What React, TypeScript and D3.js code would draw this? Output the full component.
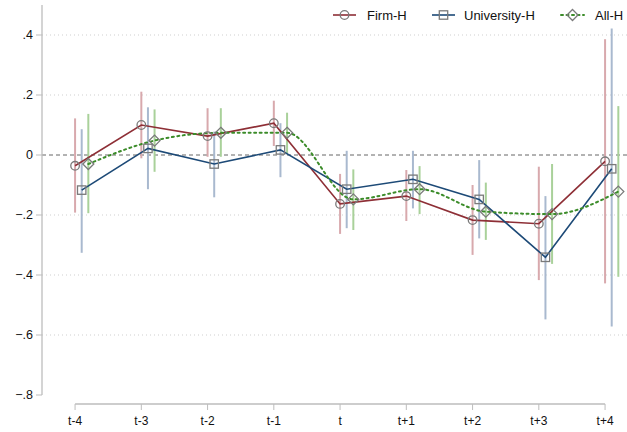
import React from "react";
import * as d3 from "d3";

const periods = ["t-4", "t-3", "t-2", "t-1", "t", "t+1", "t+2", "t+3", "t+4"];

const firmEst = [-0.036, 0.1, 0.063, 0.106, -0.163, -0.137, -0.217, -0.229, -0.021];
const firmLo = [-0.192, -0.011, -0.006, 0.03, -0.263, -0.22, -0.333, -0.417, -0.428];
const firmHi = [0.122, 0.211, 0.156, 0.181, -0.063, -0.05, -0.1, -0.039, 0.386];

const uniEst = [-0.117, 0.022, -0.03, 0.017, -0.114, -0.081, -0.148, -0.341, -0.046];
const uniLo = [-0.326, -0.114, -0.141, -0.074, -0.244, -0.178, -0.278, -0.548, -0.572];
const uniHi = [0.086, 0.159, 0.078, 0.106, 0.014, 0.014, -0.017, -0.137, 0.422];

const allEst = [-0.03, 0.048, 0.074, 0.074, -0.148, -0.114, -0.189, -0.197, -0.122];
const allLo = [-0.194, -0.056, -0.006, 0.006, -0.25, -0.197, -0.283, -0.363, -0.406];
const allHi = [0.137, 0.152, 0.156, 0.141, -0.048, -0.037, -0.092, -0.03, 0.163];

const yTicks = [0.4, 0.2, 0, -0.2, -0.4, -0.6, -0.8];
const gridTicks = [0.4, 0.2, -0.2, -0.4, -0.6];

const W = 627;
const H = 432;
const font = "'Liberation Sans', Arial, Helvetica, sans-serif";

const series = [
  { name: "Firm-H", est: firmEst, lo: firmLo, hi: firmHi, off: -0.1, line: "#8e2f36", ci: "#d8a9ad", marker: "circle", dash: null, curve: d3.curveLinear },
  { name: "University-H", est: uniEst, lo: uniLo, hi: uniHi, off: 0, line: "#1d4a77", ci: "#a9b9cf", marker: "square", dash: null, curve: d3.curveLinear },
  { name: "All-H", est: allEst, lo: allLo, hi: allHi, off: 0.1, line: "#3c8c2a", ci: "#a9d19a", marker: "diamond", dash: "2,3.5", curve: d3.curveMonotoneX },
];

const Marker = ({ type, x, y }: { type: string; x: number; y: number }) => {
  const stroke = "#7a7a7a";
  if (type === "circle") return <circle cx={x} cy={y} r={4.3} fill="none" stroke={stroke} strokeWidth={1.3} />;
  if (type === "square") return <rect x={x - 4.2} y={y - 4.2} width={8.4} height={8.4} fill="none" stroke={stroke} strokeWidth={1.3} />;
  return <path d={`M${x},${y - 5.5}L${x + 5.5},${y}L${x},${y + 5.5}L${x - 5.5},${y}Z`} fill="none" stroke={stroke} strokeWidth={1.3} />;
};

export default function App() {
  const y = d3.scaleLinear().domain([-0.8, 0.4]).range([395, 35]);
  const xPts = d3.scaleLinear().domain([0, periods.length - 1]).range([81.7, 611.7]);
  const xTick = (i: number) => xPts(i - 0.1);
  const axisLeft = 42;
  const axisBottom = 404;

  const legendItems = [
    { s: series[0], x0: 333, tx: 367 },
    { s: series[1], x0: 432, tx: 464 },
    { s: series[2], x0: 561, tx: 595 },
  ];

  return (
    <svg width={W} height={H} style={{ position: "absolute", left: 0, top: 0, background: "#fff" }} fontFamily={font}>
      {/* gridlines */}
      {gridTicks.map((t) => (
        <line key={t} x1={axisLeft} x2={W} y1={y(t)} y2={y(t)} stroke="#cfcfcf" strokeWidth={1} strokeDasharray="1,3" />
      ))}
      <line x1={axisLeft} x2={W} y1={y(0)} y2={y(0)} stroke="#666" strokeWidth={1} strokeDasharray="4,3" />

      {/* y axis */}
      <line x1={axisLeft} x2={axisLeft} y1={5} y2={y(-0.8)} stroke="#bdbdbd" strokeWidth={1.3} />
      {yTicks.map((t) => (
        <g key={t}>
          <line x1={axisLeft - 6} x2={axisLeft} y1={y(t)} y2={y(t)} stroke="#bdbdbd" strokeWidth={1} />
          <text x={axisLeft - 9} y={y(t)} dy="0.35em" textAnchor="end" fontSize={12.5} fill="#111">
            {t === 0 ? "0" : d3.format(".1f")(t).replace("0.", ".")}
          </text>
        </g>
      ))}

      {/* x axis */}
      <line x1={xTick(0)} x2={xTick(periods.length - 1)} y1={axisBottom} y2={axisBottom} stroke="#bdbdbd" strokeWidth={1.3} />
      {periods.map((p, i) => (
        <g key={p}>
          <line x1={xTick(i)} x2={xTick(i)} y1={axisBottom} y2={axisBottom + 6} stroke="#bdbdbd" strokeWidth={1} />
          <text x={xTick(i)} y={axisBottom + 17} dy="0.35em" textAnchor="middle" fontSize={12} fill="#111">{p}</text>
        </g>
      ))}

      {/* confidence intervals */}
      {series.map((s) =>
        s.est.map((_, i) => (
          <line key={s.name + i} x1={xPts(i + s.off)} x2={xPts(i + s.off)} y1={y(s.lo[i])} y2={y(s.hi[i])} stroke={s.ci} strokeWidth={2} />
        ))
      )}

      {/* lines */}
      {series.map((s) => {
        const gen = d3.line<number>().x((_, i) => xPts(i + s.off)).y((d) => y(d)).curve(s.curve);
        return (
          <path key={s.name} d={gen(s.est) || ""} fill="none" stroke={s.line} strokeWidth={s.dash ? 2 : 1.6}
            strokeDasharray={s.dash || undefined} strokeLinecap={s.dash ? "round" : "butt"} />
        );
      })}

      {/* markers */}
      {series.map((s) =>
        s.est.map((v, i) => <Marker key={s.name + "m" + i} type={s.marker} x={xPts(i + s.off)} y={y(v)} />)
      )}

      {/* legend */}
      {legendItems.map(({ s, x0, tx }) => (
        <g key={s.name}>
          <line x1={x0} x2={x0 + 23} y1={15} y2={15} stroke={s.line} strokeWidth={s.dash ? 2 : 1.6}
            strokeDasharray={s.dash || undefined} strokeLinecap={s.dash ? "round" : "butt"} />
          <Marker type={s.marker} x={x0 + 11.5} y={15} />
          <text x={tx} y={15} dy="0.35em" fontSize={13} fill="#111">{s.name}</text>
        </g>
      ))}
    </svg>
  );
}
